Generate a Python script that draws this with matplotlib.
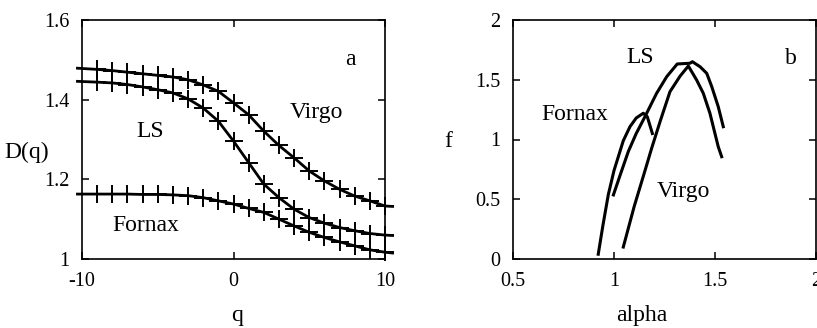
import numpy as np
import matplotlib.pyplot as plt

# panel a: D(q) curves
q = [-10.3, -9, -8, -7, -6, -5, -4, -3, -2, -1, 0, 1, 2, 3, 4, 5, 6, 7, 8, 9, 10, 10.5]
d_virgo = [1.479, 1.476, 1.473, 1.469, 1.465, 1.461, 1.457, 1.450, 1.437, 1.421, 1.392,
           1.362, 1.321, 1.285, 1.254, 1.221, 1.196, 1.175, 1.158, 1.146, 1.133, 1.132]
d_ls = [1.446, 1.444, 1.442, 1.438, 1.432, 1.425, 1.417, 1.402, 1.379, 1.346, 1.296,
        1.242, 1.188, 1.154, 1.125, 1.104, 1.090, 1.079, 1.071, 1.064, 1.060, 1.059]
d_fornax = [1.163, 1.163, 1.163, 1.163, 1.162, 1.162, 1.161, 1.159, 1.154, 1.146, 1.138,
            1.127, 1.117, 1.100, 1.083, 1.067, 1.054, 1.043, 1.033, 1.023, 1.017, 1.015]
q_marks = list(range(-9, 11))

# panel b: f(alpha) curves
a_fornax = [0.922, 0.945, 0.972, 1.0, 1.046, 1.079, 1.11, 1.145, 1.165, 1.19]
f_fornax = [0.04, 0.28, 0.54, 0.74, 0.99, 1.107, 1.18, 1.22, 1.19, 1.05]
a_ls = [0.997, 1.03, 1.071, 1.11, 1.153, 1.211, 1.261, 1.313, 1.376, 1.388,
        1.426, 1.459, 1.484, 1.516, 1.541]
f_ls = [0.536, 0.70, 0.90, 1.05, 1.19, 1.387, 1.526, 1.632, 1.638, 1.651,
        1.609, 1.554, 1.442, 1.275, 1.107]
a_virgo = [1.046, 1.10, 1.15, 1.187, 1.23, 1.277, 1.327, 1.368, 1.409, 1.442,
           1.475, 1.516, 1.533]
f_virgo = [0.10, 0.44, 0.72, 0.93, 1.16, 1.40, 1.53, 1.615, 1.498, 1.387,
           1.219, 0.94, 0.856]

plt.rcParams["font.family"] = "Liberation Serif"
plt.rcParams["font.size"] = 14

fig = plt.figure(figsize=(8.17, 3.28), dpi=100)
W, H = 817, 328
ax1 = fig.add_axes([82 / W, 1 - 259 / H, (385 - 82) / W, (259 - 20) / H])
ax2 = fig.add_axes([513 / W, 1 - 259 / H, (816 - 513) / W, (259 - 20) / H])

for ax in (ax1, ax2):
    for s in ax.spines.values():
        s.set_linewidth(1.2)
    ax.tick_params(direction="in", length=5, width=1.1, top=True, right=True,
                   labeltop=False, labelright=False, pad=9, labelsize=14.5)

# panel a
for d in (d_virgo, d_ls, d_fornax):
    ax1.plot(q, d, color="black", lw=2, clip_on=False)
    marks = [d[q.index(v)] for v in q_marks]
    ax1.plot(q_marks, marks, ls="none", marker="+", ms=13, mew=1.4,
             color="black", clip_on=False)
ax1.set_xlim(-10, 10)
ax1.set_ylim(1, 1.6)
ax1.set_xticks([-10, 0, 10])
ax1.set_xticklabels(["-10", "0", "10"])
ax1.set_yticks([1, 1.2, 1.4, 1.6])
ax1.set_yticklabels(["1", "1.2", "1.4", "1.6"])
ax1.text(7.7, 1.5, "a", fontsize=17, ha="center", va="center")
ax1.text(5.5, 1.367, "Virgo", fontsize=17, ha="center", va="center")
ax1.text(-5.5, 1.32, "LS", fontsize=17, ha="center", va="center")
ax1.text(-5.8, 1.083, "Fornax", fontsize=17, ha="center", va="center")

# panel b
ax2.plot(a_fornax, f_fornax, color="black", lw=2.2)
ax2.plot(a_ls, f_ls, color="black", lw=2.2)
ax2.plot(a_virgo, f_virgo, color="black", lw=2.2)
ax2.set_xlim(0.5, 2)
ax2.set_ylim(0, 2)
ax2.set_xticks([0.5, 1, 1.5, 2])
ax2.set_xticklabels(["0.5", "1", "1.5", "2"])
ax2.set_yticks([0, 0.5, 1, 1.5, 2])
ax2.set_yticklabels(["0", "0.5", "1", "1.5", "2"])
ax2.text(1.129, 1.69, "LS", fontsize=17, ha="center", va="center")
ax2.text(1.874, 1.68, "b", fontsize=17, ha="center", va="center")
ax2.text(0.806, 1.206, "Fornax", fontsize=17, ha="center", va="center")
ax2.text(1.344, 0.565, "Virgo", fontsize=17, ha="center", va="center")

fig.text(27 / W, 1 - 152 / H, "D(q)", fontsize=17, ha="center", va="center")
fig.text(237 / W, 1 - 315 / H, "q", fontsize=17, ha="center", va="center")
fig.text(448 / W, 1 - 142 / H, "f", fontsize=17, ha="center", va="center")
fig.text(642 / W, 1 - 315 / H, "alpha", fontsize=17, ha="center", va="center")

fig.savefig("out.png", dpi=100)
